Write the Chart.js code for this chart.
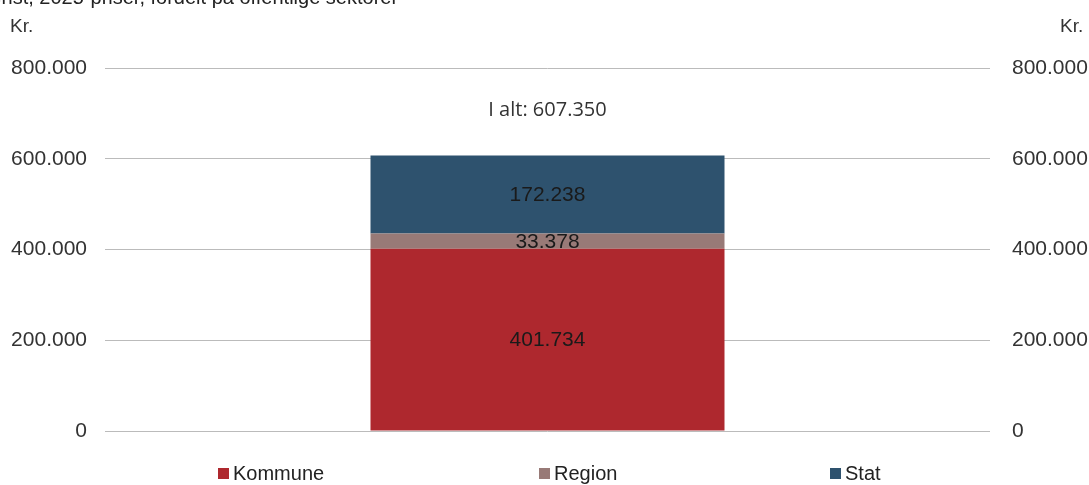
<!DOCTYPE html>
<html>
<head>
<meta charset="utf-8">
<script src="https://cdn.jsdelivr.net/npm/chart.js@4"></script>
<style>
  body { margin: 0; background: #fff; font-family: "Liberation Sans", Arial, sans-serif; }
  #wrap { position: relative; width: 1089px; height: 485px; overflow: hidden; }
  #title { position: absolute; left: -14px; top: -14px; font-size: 20px; color: #222; white-space: nowrap; }
  .unit { position: absolute; top: 15px; font-size: 19px; color: #333; }
  #legend { position: absolute; top: 462px; left: 0; width: 1089px; font-family: "Liberation Sans Narrow", "Liberation Sans", sans-serif; font-size: 20px; color: #222; }
  #legend span { position: absolute; white-space: nowrap; }
  #legend i { display: inline-block; width: 11px; height: 11px; margin-right: 4px; vertical-align: 1px; }
</style>
</head>
<body>
<div id="wrap">
  <div id="title">Gnst, 2025-priser, fordelt på offentlige sektorer</div>
  <div class="unit" style="left:10px">Kr.</div>
  <div class="unit" style="left:1060px">Kr.</div>
  <canvas id="chart" width="1089" height="485"></canvas>
  <div id="legend"></div>
</div>
<script>
// data
const categories = [''];
const seriesNames = ['Kommune', 'Region', 'Stat'];
const kommune = [401734];
const region = [33378];
const stat = [172238];
const total = [607350];
const yTicks = [0, 200000, 400000, 600000, 800000];

const colors = ['#AE282E', '#987A77', '#2E526E'];

// dansk talformat med punktum
function fmt(v) {
  return v.toLocaleString('da-DK');
}

// tal midt i hver bar + "I alt" over stakken
const labelPlugin = {
  id: 'labels',
  afterDatasetsDraw(chart) {
    const ctx = chart.ctx;
    ctx.save();
    ctx.textAlign = 'center';
    ctx.textBaseline = 'middle';
    ctx.fillStyle = '#1a1a1a';
    ctx.font = '21px "Liberation Sans", Arial, sans-serif';
    chart.data.datasets.forEach((ds, i) => {
      chart.getDatasetMeta(i).data.forEach((bar, j) => {
        const p = bar.getProps(['x', 'y', 'base'], true);
        ctx.fillText(fmt(ds.data[j]), p.x, (p.y + p.base) / 2 + 1);
      });
    });
    const top = chart.getDatasetMeta(2).data[0];
    ctx.font = '20px "Open Sans", "Noto Sans", sans-serif';
    ctx.fillStyle = '#333';
    ctx.fillText('I alt: ' + fmt(total[0]), top.x, chart.scales.y.getPixelForValue(total[0]) - 45);
    ctx.restore();
  }
};

const tickFont = { family: '"Liberation Sans", Arial, sans-serif', size: 21 };

new Chart(document.getElementById('chart'), {
  type: 'bar',
  data: {
    labels: categories,
    datasets: [
      { label: seriesNames[0], data: kommune, backgroundColor: colors[0] },
      { label: seriesNames[1], data: region, backgroundColor: colors[1] },
      { label: seriesNames[2], data: stat, backgroundColor: colors[2] }
    ]
  },
  options: {
    responsive: false,
    animation: false,
    layout: { padding: { top: 68, bottom: 54, left: 0, right: 0 } },
    datasets: { bar: { barPercentage: 0.4, categoryPercentage: 1 } },
    plugins: { legend: { display: false }, tooltip: { enabled: false } },
    scales: {
      x: { stacked: true, display: false },
      y: {
        stacked: true, min: 0, max: 800000,
        afterBuildTicks: s => { s.ticks = yTicks.map(v => ({ value: v })); },
        afterFit: s => { s.width = 105; },
        ticks: { color: '#333', font: tickFont, padding: 18, callback: v => fmt(v) },
        grid: { color: '#BBBBBB', drawTicks: false },
        border: { display: false }
      },
      y2: {
        position: 'right', min: 0, max: 800000,
        afterBuildTicks: s => { s.ticks = yTicks.map(v => ({ value: v })); },
        afterFit: s => { s.width = 99; },
        ticks: { color: '#333', font: tickFont, padding: 22, callback: v => fmt(v) },
        grid: { display: false, drawTicks: false },
        border: { display: false }
      }
    }
  },
  plugins: [labelPlugin]
});

// legende
const legendX = [218, 539, 830];
const legend = document.getElementById('legend');
seriesNames.forEach((name, i) => {
  const s = document.createElement('span');
  s.style.left = legendX[i] + 'px';
  s.innerHTML = '<i style="background:' + colors[i] + '"></i>' + name;
  legend.appendChild(s);
});
</script>
</body>
</html>
